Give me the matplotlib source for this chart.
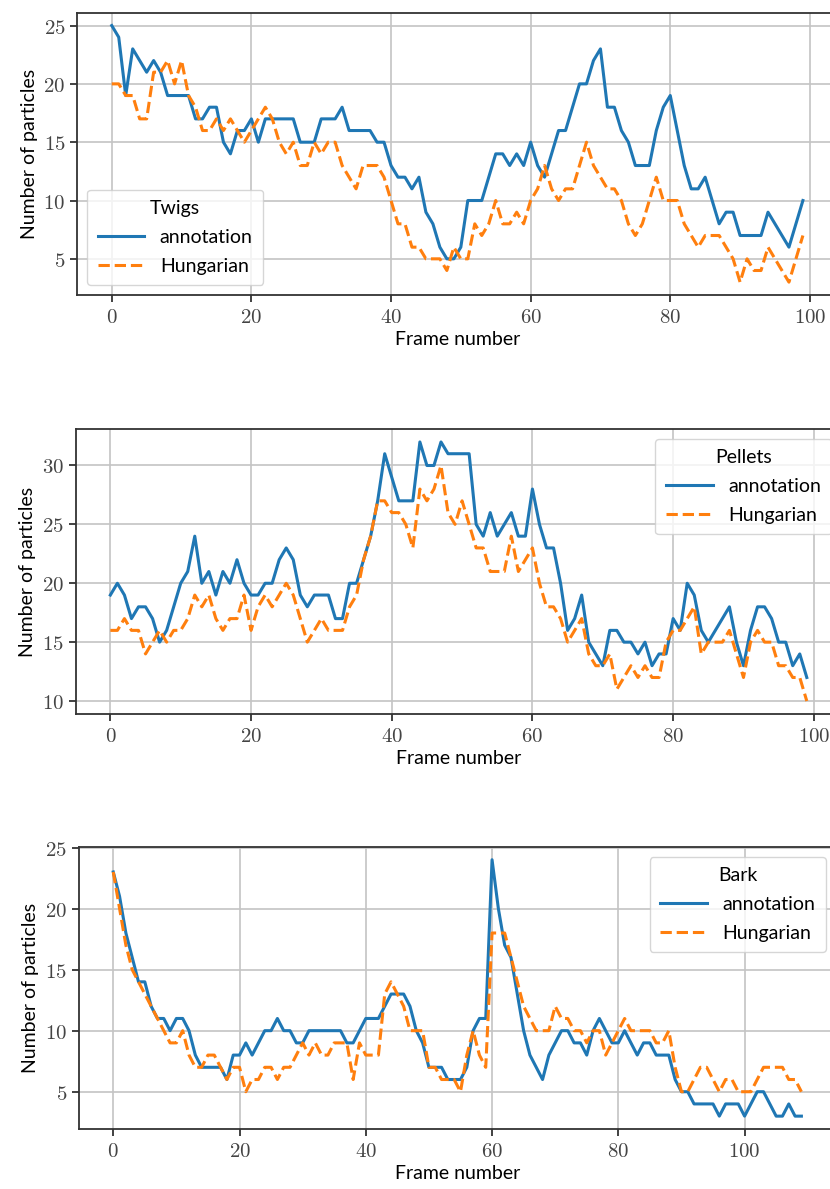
import numpy as np
import matplotlib
matplotlib.use("Agg")
from matplotlib import pyplot as plt
from matplotlib.ticker import FuncFormatter

# Particle counts per frame
twigs_annotation = [25, 24, 19, 23, 22, 21, 22, 21, 19, 19, 19, 19,
                    17, 17, 18, 18, 15, 14, 16, 16,
                    17, 15, 17, 17, 17, 17, 17, 15, 15, 15,
                    17, 17, 17, 18, 16, 16, 16, 16, 15, 15,
                    13, 12, 12, 11, 12, 9, 8, 6, 5, 5,
                    6, 10, 10, 10, 12, 14, 14, 13, 14, 13,
                    15, 13, 12, 14, 16, 16, 18, 20, 20, 22,
                    23, 18, 18, 16, 15, 13, 13, 13, 16, 18,
                    19, 16, 13, 11, 11, 12, 10, 8, 9, 9,
                    7, 7, 7, 7, 9, 8, 7, 6, 8, 10]
twigs_hungarian = [20, 20, 19, 19, 17, 17, 21, 21, 22, 20, 22, 19,
                   18, 16, 16, 17, 16, 17, 16, 15,
                   16, 17, 18, 17, 15, 14, 15, 13, 13, 15,
                   14, 15, 15, 13, 12, 11, 13, 13, 13, 12,
                   10, 8, 8, 6, 6, 5, 5, 5, 4, 6,
                   5, 5, 8, 7, 8, 10, 8, 8, 9, 8,
                   10, 11, 13, 11, 10, 11, 11, 13, 15, 13,
                   12, 11, 11, 10, 8, 7, 8, 10, 12, 10,
                   10, 10, 8, 7, 6, 7, 7, 7, 6, 5,
                   3, 5, 4, 4, 6, 5, 4, 3, 5, 7]

pellets_annotation = [19, 20, 19, 17, 18, 18, 17, 15, 16, 18,
                      20, 21, 24, 20, 21, 19, 21, 20, 22, 20,
                      19, 19, 20, 20, 22, 23, 22, 19, 18, 19,
                      19, 19, 17, 17, 20, 20, 22, 24, 27, 31,
                      29, 27, 27, 27, 32, 30, 30, 32, 31, 31,
                      31, 31, 25, 24, 26, 24, 25, 26, 24, 24,
                      28, 25, 23, 23, 20, 16, 17, 19, 15, 14,
                      13, 16, 16, 15, 15, 14, 15, 13, 14, 14,
                      17, 16, 20, 19, 16, 15, 16, 17, 18, 15,
                      13, 16, 18, 18, 17, 15, 15, 13, 14, 12]
pellets_hungarian = [16, 16, 17, 16, 16, 14, 15, 16, 15, 16,
                     16, 17, 19, 18, 19, 17, 16, 17, 17, 19,
                     16, 18, 19, 18, 19, 20, 19, 17, 15, 16,
                     17, 16, 16, 16, 18, 19, 22, 24, 27, 27,
                     26, 26, 25, 23, 28, 27, 28, 30, 26, 25,
                     27, 25, 23, 23, 21, 21, 21, 24, 21, 22,
                     23, 20, 18, 18, 17, 15, 16, 17, 14, 13,
                     13, 14, 11, 12, 13, 12, 13, 12, 12, 15,
                     16, 16, 17, 18, 14, 15, 15, 15, 16, 14,
                     12, 15, 16, 15, 15, 13, 13, 12, 12, 10]

bark_annotation = [23, 21, 18, 16, 14, 14, 12, 11, 11, 10,
                   11, 11, 10, 8, 7, 7, 7, 7, 6, 8,
                   8, 9, 8, 9, 10, 10, 11, 10, 10, 9,
                   9, 10, 10, 10, 10, 10, 10, 9, 9, 10,
                   11, 11, 11, 12, 13, 13, 13, 12, 10, 9,
                   7, 7, 7, 6, 6, 6, 7, 10, 11, 11,
                   24, 20, 17, 16, 13, 10, 8, 7, 6, 8,
                   9, 10, 10, 9, 9, 8, 10, 11, 10, 9,
                   9, 10, 9, 8, 9, 9, 8, 8, 8, 6,
                   5, 5, 4, 4, 4, 4, 3, 4, 4, 4,
                   3, 4, 5, 5, 4, 3, 3, 4, 3, 3]
bark_hungarian = [23, 20, 17, 15, 14, 13, 12, 11, 10, 9,
                  9, 10, 8, 7, 7, 8, 8, 7, 6, 7,
                  7, 5, 6, 6, 7, 7, 6, 7, 7, 8,
                  9, 8, 9, 8, 8, 9, 9, 9, 6, 9,
                  8, 8, 8, 13, 14, 13, 12, 10, 10, 10,
                  7, 7, 6, 6, 6, 5, 8, 10, 8, 7,
                  18, 18, 18, 16, 14, 12, 11, 10, 10, 10,
                  12, 11, 11, 10, 10, 9, 10, 10, 8, 9,
                  10, 11, 10, 10, 10, 10, 9, 9, 10, 7,
                  5, 5, 6, 7, 7, 6, 5, 6, 6, 5,
                  5, 5, 6, 7, 7, 7, 7, 6, 6, 5]

panels = [("Twigs", twigs_annotation, twigs_hungarian, "lower left"),
          ("Pellets", pellets_annotation, pellets_hungarian, "upper right"),
          ("Bark", bark_annotation, bark_hungarian, "upper right")]

plt.rcParams['font.family'] = ['Lato', 'DejaVu Sans']
plt.rcParams['mathtext.fontset'] = 'cm'
plt.rcParams['font.size'] = 14

fig = plt.figure(figsize=(8.3, 11.89), dpi=100)

# axes boxes in figure fraction (the right spine runs slightly past the edge)
boxes = [[0.093, 0.7519, 0.916, 0.2374],
         [0.091, 0.3995, 0.923, 0.2397],
         [0.095, 0.0505, 0.912, 0.2372]]

intFmt = FuncFormatter(lambda v, pos: r'$%d$' % v)

for i in range(0, len(panels)):
    title, annotation, hungarian, loc = panels[i]
    ax = fig.add_axes(boxes[i])
    frames = np.arange(len(annotation))
    ax.plot(frames, annotation, color='#1f77b4', lw=2.2, label='annotation')
    ax.plot(frames, hungarian, color='#ff7f0e', lw=2.2, ls='--', label='Hungarian')
    ax.grid(True, color='#c4c4c4', lw=1.2)
    ax.set_axisbelow(True)
    for s in ax.spines.values():
        s.set_color('#333333')
        s.set_linewidth(1.3)
    ax.tick_params(length=5, width=1.3, color='#333333', labelcolor='#444444',
                   labelsize=15)
    ax.xaxis.set_major_formatter(intFmt)
    ax.yaxis.set_major_formatter(intFmt)
    ax.set_yticks([5, 10, 15, 20, 25] if i != 1 else [10, 15, 20, 25, 30])
    ax.set_xlabel('Frame number', fontsize=14, labelpad=3)
    ax.set_ylabel('Number of particles', fontsize=14)
    ax.legend(title=title, loc=loc, fontsize=14, title_fontsize=14,
              handlelength=2.4, labelspacing=0.6, borderpad=0.55,
              edgecolor='#cccccc')

fig.savefig('out.png', dpi=100)
